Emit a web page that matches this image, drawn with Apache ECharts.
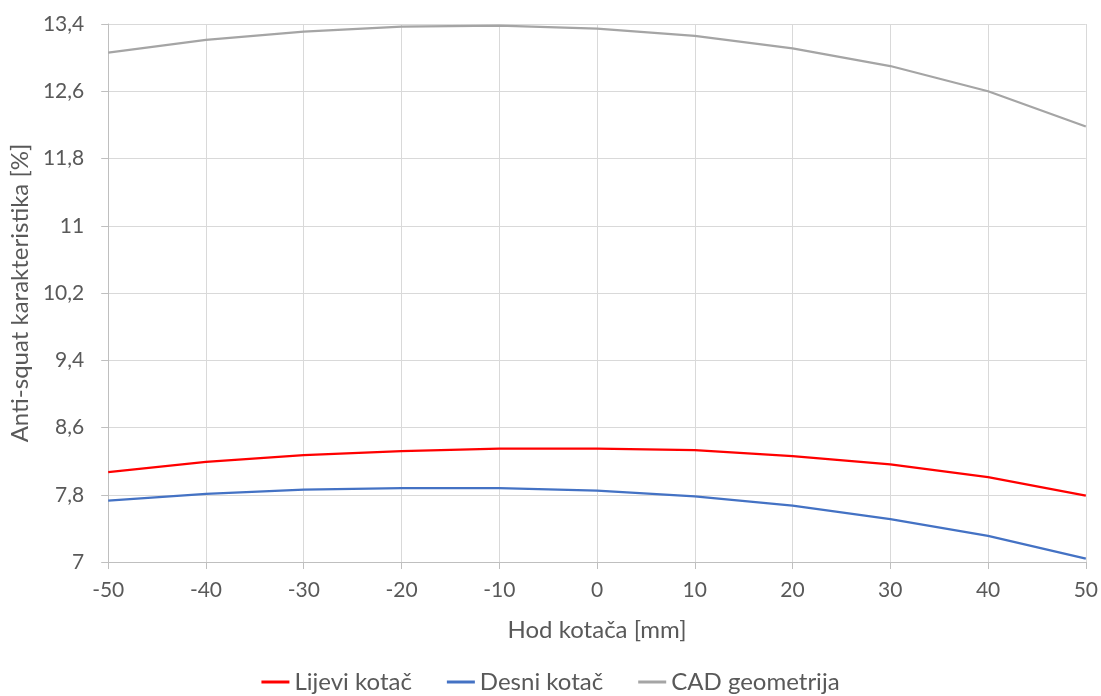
<!DOCTYPE html>
<html>
<head>
<meta charset="utf-8">
<script src="https://cdn.jsdelivr.net/npm/echarts@6/dist/echarts.min.js"></script>
<style>
html,body{margin:0;padding:0;background:#fff;}
#chart{width:1101px;height:696px;}
</style>
</head>
<body>
<div id="chart"></div>
<script>
const xValues = [-50, -40, -30, -20, -10, 0, 10, 20, 30, 40, 50];
const lijeviKotac = [8.07, 8.19, 8.27, 8.32, 8.35, 8.35, 8.33, 8.26, 8.16, 8.01, 7.79];
const desniKotac = [7.73, 7.81, 7.86, 7.88, 7.88, 7.85, 7.78, 7.67, 7.51, 7.31, 7.04];
const cadGeometrija = [13.06, 13.21, 13.31, 13.37, 13.38, 13.345, 13.26, 13.11, 12.90, 12.60, 12.18];
const yTicks = [7, 7.8, 8.6, 9.4, 10.2, 11, 11.8, 12.6, 13.4];
const seriesNames = ['Lijevi kotač', 'Desni kotač', 'CAD geometrija'];
const colors = ['#ff0000', '#4472c4', '#a5a5a5'];

const pairs = arr => xValues.map((x, i) => [x, arr[i]]);
const FONT = 'Lato';
const TXT = '#595959';

const chart = echarts.init(document.getElementById('chart'));
chart.setOption({
  animation: false,
  textStyle: { fontFamily: FONT },
  grid: { left: 108, right: 14, top: 24, bottom: 134 },
  legend: {
    top: 665,
    left: 'center',
    itemWidth: 28,
    itemHeight: 3,
    itemGap: 35,
    icon: 'rect',
    textStyle: { color: TXT, fontSize: 24, fontFamily: FONT },
    data: seriesNames
  },
  xAxis: {
    type: 'value',
    min: -50, max: 50, interval: 10,
    name: 'Hod kotača [mm]',
    nameLocation: 'middle',
    nameGap: 56,
    nameTextStyle: { color: TXT, fontSize: 24, fontFamily: FONT },
    axisLine: { show: true, onZero: false, lineStyle: { color: '#bfbfbf', width: 1 } },
    axisTick: { show: true, length: 7, lineStyle: { color: '#bfbfbf' } },
    axisLabel: { color: TXT, fontSize: 21, margin: 18, fontFamily: FONT },
    splitLine: { show: true, lineStyle: { color: '#d9d9d9', width: 1 } }
  },
  yAxis: {
    type: 'value',
    min: 7, max: 13.4,
    name: 'Anti-squat karakteristika [%]',
    nameLocation: 'middle',
    nameGap: 72,
    nameTextStyle: { color: TXT, fontSize: 24, fontFamily: FONT },
    axisLine: { show: true, onZero: false, lineStyle: { color: '#bfbfbf', width: 1 } },
    axisTick: { show: true, length: 7, customValues: yTicks, lineStyle: { color: '#bfbfbf' } },
    axisLabel: {
      color: TXT, fontSize: 21, margin: 24, fontFamily: FONT,
      customValues: yTicks,
      formatter: v => String(Math.round(v * 10) / 10).replace('.', ',')
    },
    splitLine: { show: true, lineStyle: { color: '#d9d9d9', width: 1 } }
  },
  series: [
    { name: seriesNames[0], type: 'line', data: pairs(lijeviKotac), showSymbol: false, lineStyle: { color: colors[0], width: 2.25 }, itemStyle: { color: colors[0] } },
    { name: seriesNames[1], type: 'line', data: pairs(desniKotac), showSymbol: false, lineStyle: { color: colors[1], width: 2.25 }, itemStyle: { color: colors[1] } },
    { name: seriesNames[2], type: 'line', data: pairs(cadGeometrija), showSymbol: false, lineStyle: { color: colors[2], width: 2.25 }, itemStyle: { color: colors[2] } }
  ]
});
</script>
</body>
</html>
